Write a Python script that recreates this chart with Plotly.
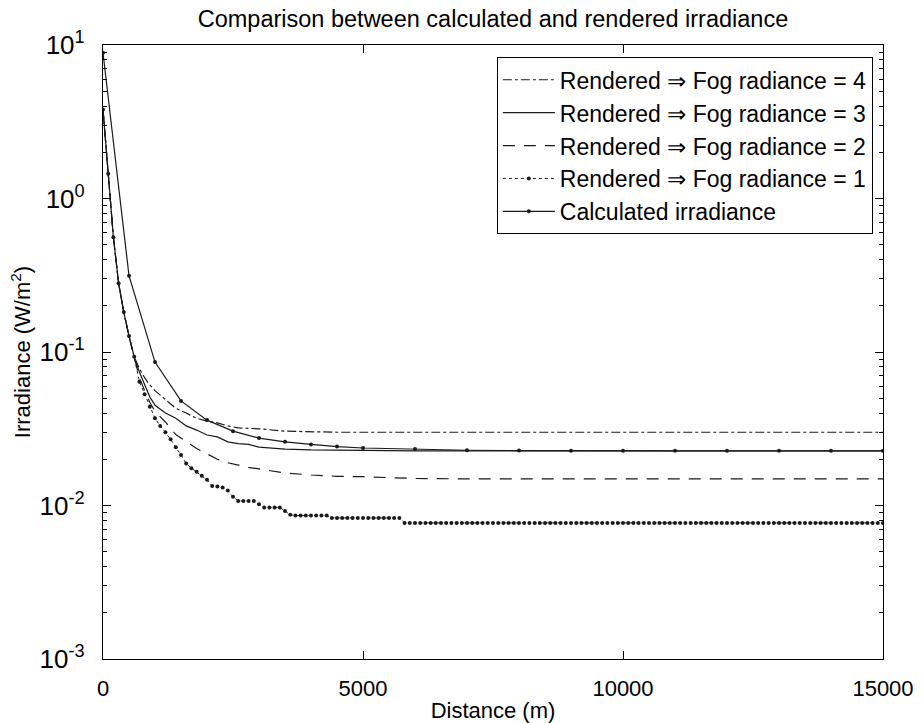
import plotly.graph_objects as go

# ---------------- data ----------------
x_calc = [0, 500, 1000, 1500, 2000, 2500, 3000, 3500, 4000, 4500, 5000,
          6000, 7000, 8000, 9000, 10000, 11000, 12000, 13000, 14000, 15000]
calc_irr = [8.9, 0.314, 0.086, 0.048, 0.036, 0.0305, 0.0275, 0.026, 0.025, 0.0242, 0.0237,
            0.0233, 0.0229, 0.0228, 0.0227, 0.0227, 0.0227, 0.0227, 0.0227, 0.0227, 0.0227]

x_coarse = [0, 100, 200, 300, 400, 500, 600, 700, 800, 900, 1000, 1200, 1400, 1600, 1800,
            2000, 2200, 2400, 2600, 2800, 3000, 3500, 4000, 4500, 5000, 5500, 6000,
            7000, 8000, 9000, 10000, 11000, 12000, 13000, 14000, 15000]
fog4 = [3.8, 1.45, 0.56, 0.28, 0.182, 0.127, 0.093, 0.078, 0.068, 0.061, 0.056, 0.049, 0.043,
        0.040, 0.037, 0.0355, 0.0345, 0.033, 0.032, 0.0318, 0.0316, 0.0305, 0.0301, 0.030,
        0.030, 0.030, 0.030, 0.030, 0.030, 0.030, 0.030, 0.030, 0.030, 0.030, 0.030, 0.030]
fog3 = [3.8, 1.45, 0.56, 0.28, 0.182, 0.127, 0.093, 0.074, 0.062, 0.051, 0.045, 0.040, 0.037,
        0.033, 0.031, 0.0288, 0.028, 0.026, 0.0253, 0.0250, 0.0240, 0.0233, 0.0230, 0.0229,
        0.0228, 0.0227, 0.0227, 0.0227, 0.0227, 0.0227, 0.0227, 0.0227, 0.0227, 0.0227, 0.0227, 0.0227]
fog2 = [3.8, 1.45, 0.56, 0.28, 0.182, 0.127, 0.093, 0.068, 0.056, 0.047, 0.041, 0.035, 0.029,
        0.026, 0.0235, 0.0217, 0.020, 0.019, 0.0183, 0.0177, 0.0173, 0.0163, 0.0158, 0.0155,
        0.0154, 0.0152, 0.0150, 0.0149, 0.0149, 0.0149, 0.0149, 0.0149, 0.0149, 0.0149, 0.0149, 0.0149]

x_fine = list(range(0, 15001, 100))
fog1 = ([3.8, 1.45, 0.56, 0.28, 0.182, 0.127, 0.093, 0.064, 0.053, 0.044,
         0.037, 0.033, 0.030, 0.027, 0.024, 0.0213, 0.0188, 0.0175, 0.0166, 0.0156,
         0.0147, 0.0134, 0.0133, 0.0131, 0.0125, 0.0114, 0.0107, 0.0107, 0.0107, 0.0107,
         0.0102, 0.0097, 0.0097, 0.0097, 0.0097, 0.0092, 0.0087, 0.0086, 0.0086, 0.0086,
         0.0086, 0.0086, 0.0086, 0.0086, 0.0083, 0.0083, 0.0083, 0.0083, 0.0083, 0.0083,
         0.0083, 0.0083, 0.0083, 0.0083, 0.0083, 0.0083, 0.0083, 0.0083, 0.0077, 0.0077]
        + [0.0077] * 91)

y_tickvals = [1e-3, 1e-2, 1e-1, 1e0, 1e1]
y_ticktext = ["10<sup>-3</sup>", "10<sup>-2</sup>", "10<sup>-1</sup>", "10<sup>0</sup>", "10<sup>1</sup>"]
y_minor = [m * 10.0 ** e for e in (-3, -2, -1, 0) for m in range(2, 10)]
x_tickvals = [0, 5000, 10000, 15000]

names = ["Rendered \u21d2 Fog radiance = 4", "Rendered \u21d2 Fog radiance = 3",
         "Rendered \u21d2 Fog radiance = 2", "Rendered \u21d2 Fog radiance = 1",
         "Calculated irradiance"]

# ---------------- figure ----------------
ink = "#1a1a1a"
fig = go.Figure()
fig.add_trace(go.Scatter(x=x_coarse, y=fog4, mode="lines", name=names[0],
                         line=dict(color=ink, width=1.2, dash="dashdot")))
fig.add_trace(go.Scatter(x=x_coarse, y=fog3, mode="lines", name=names[1],
                         line=dict(color=ink, width=1.2)))
fig.add_trace(go.Scatter(x=x_coarse, y=fog2, mode="lines", name=names[2],
                         line=dict(color=ink, width=1.2, dash="12px,9px")))
fig.add_trace(go.Scatter(x=x_fine, y=fog1, mode="lines+markers", name=names[3],
                         line=dict(color=ink, width=1, dash="dot"),
                         marker=dict(color=ink, size=4)))
fig.add_trace(go.Scatter(x=x_calc, y=calc_irr, mode="lines+markers", name=names[4],
                         line=dict(color=ink, width=1.2),
                         marker=dict(color=ink, size=4)))

font_family = "Liberation Sans, Arial, Helvetica, sans-serif"
fig.update_layout(
    width=922, height=723,
    margin=dict(l=103, r=39, t=45, b=64, autoexpand=False),
    paper_bgcolor="white", plot_bgcolor="white",
    font=dict(family=font_family, color="black", size=22),
    title=dict(text="Comparison between calculated and rendered irradiance",
               x=0.5, xref="paper", y=1 - 19 / 723, yref="container",
               yanchor="middle", font=dict(size=23.5), automargin=False),
    showlegend=True,
    legend=dict(x=0.987, y=0.980, xanchor="right", yanchor="top",
                bgcolor="white", bordercolor="black", borderwidth=1,
                font=dict(size=23), tracegroupgap=0, itemwidth=52),
)
fig.update_xaxes(
    range=[0, 15000], tickvals=x_tickvals, ticktext=[str(v) for v in x_tickvals],
    ticks="inside", ticklen=8, tickcolor="black", showline=True, linecolor="black",
    linewidth=1.2, mirror="ticks", showgrid=False, zeroline=False, automargin=False,
    ticklabelstandoff=9,
    tickfont=dict(size=22), title=dict(text="Distance (m)", font=dict(size=22), standoff=3),
)
fig.update_yaxes(
    type="log", range=[-3, 1], tickvals=y_tickvals, ticktext=y_ticktext,
    ticks="inside", ticklen=8, tickcolor="black", showline=True, linecolor="black",
    linewidth=1.2, mirror="ticks", showgrid=False, zeroline=False, automargin=False,
    ticklabelstandoff=12,
    tickfont=dict(size=26), title=dict(text="Irradiance (W/m<sup>2</sup>)", font=dict(size=22), standoff=2),
    minor=dict(ticks="inside", ticklen=4, tickcolor="black", tickvals=y_minor, showgrid=False),
)

fig.write_html("out.html", config={"displayModeBar": False},
               post_script="document.body.style.margin='0';")
